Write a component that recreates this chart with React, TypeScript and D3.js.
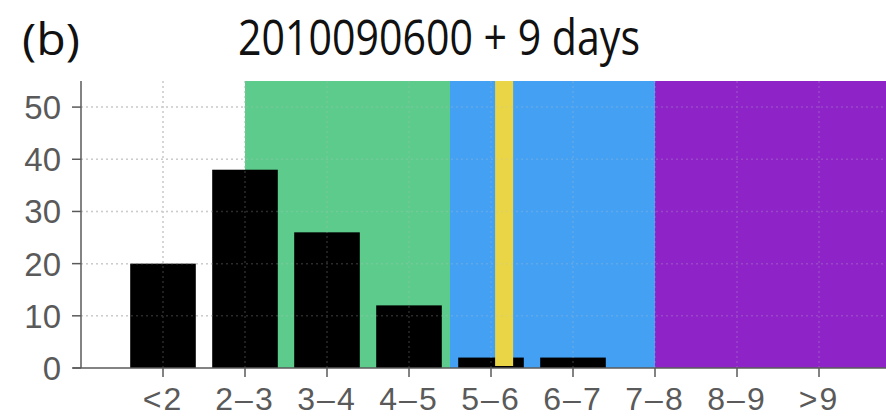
import React from "react";
import * as d3 from "d3";

const categories = ["<2", "2–3", "3–4", "4–5", "5–6", "6–7", "7–8", "8–9", ">9"];
const counts = [20, 38, 26, 12, 2, 2, 0, 0, 0];
const yTicks = [0, 10, 20, 30, 40, 50];

const bandStarts = [2, 4.5, 7];
const bandEnds = [4.5, 7, 10];
const bandColors = ["#5ccb8b", "#44a0f3", "#8e24c8"];

const obsRange = [5.05, 5.27];
const obsColor = "#e9d545";

export default function App() {
  const width = 886;
  const height = 416;
  const margin = { left: 81, top: 81, bottom: 48 };
  const plotBottom = height - margin.bottom;

  const x = d3.scaleLinear().domain([0, 10]).range([margin.left, margin.left + 820]);
  const y = d3.scaleLinear().domain([0, 55]).range([plotBottom, margin.top]);

  const barW = x(0.8) - x(0);
  const gridColor = "#c4c4c4";
  const axisColor = "#5a5a5a";

  // grid drawn twice: under the fills (clear on white) and as a faint overlay
  const grid = (opacity: number, key: string) => (
    <g key={key} opacity={opacity}>
      {yTicks.filter((t) => t > 0).map((t) => (
        <line key={t} x1={x(0)} x2={width} y1={y(t)} y2={y(t)} stroke={gridColor} strokeDasharray="2,3" strokeWidth={1.5} />
      ))}
      {categories.map((_, i) => (
        <line key={i} x1={x(i + 1)} x2={x(i + 1)} y1={y(55)} y2={plotBottom} stroke={gridColor} strokeDasharray="2,3" strokeWidth={1.5} />
      ))}
    </g>
  );

  return (
    <svg
      width={width}
      height={height}
      style={{ position: "absolute", left: 0, top: 0, display: "block", background: "#fff" }}
    >
      <text x={22} y={55} fontFamily="Open Sans" fontSize={44} fill="#111" textLength={58} lengthAdjust="spacingAndGlyphs">
        (b)
      </text>
      <text x={238} y={55} fontFamily="Open Sans" fontSize={50} fill="#111" textLength={402} lengthAdjust="spacingAndGlyphs">
        2010090600 + 9 days
      </text>

      {grid(0.8, "under")}

      {bandStarts.map((s, i) => (
        <rect key={i} x={x(s)} y={y(55)} width={x(bandEnds[i]) - x(s)} height={plotBottom - y(55)} fill={bandColors[i]} />
      ))}

      {counts.map((c, i) =>
        c > 0 ? (
          <rect key={i} x={x(i + 1) - barW / 2} y={y(c)} width={barW} height={plotBottom - y(c)} fill="#000" />
        ) : null
      )}

      <rect x={x(obsRange[0])} y={y(55)} width={x(obsRange[1]) - x(obsRange[0])} height={plotBottom - 2 - y(55)} fill={obsColor} />

      {grid(0.22, "over")}

      <line x1={x(0)} x2={x(0)} y1={y(55)} y2={plotBottom} stroke={axisColor} strokeWidth={1.5} />
      <line x1={x(0) - 8} x2={width} y1={plotBottom} y2={plotBottom} stroke={axisColor} strokeWidth={1.5} />

      {yTicks.map((t) => (
        <g key={t}>
          <line x1={x(0) - 9} x2={x(0)} y1={y(t)} y2={y(t)} stroke={axisColor} strokeWidth={1.5} />
          <text x={61} y={y(t)} dy="0.36em" textAnchor="end" fontFamily="Liberation Sans" fontSize={33} fill="#5a5a5a">
            {t}
          </text>
        </g>
      ))}

      {categories.map((c, i) => (
        <g key={c}>
          <line x1={x(i + 1)} x2={x(i + 1)} y1={plotBottom} y2={plotBottom + 9} stroke={axisColor} strokeWidth={1.5} />
          <text x={x(i + 1)} y={410} textAnchor="middle" fontFamily="Liberation Sans" fontSize={32} letterSpacing={2} fill="#5a5a5a">
            {c}
          </text>
        </g>
      ))}
    </svg>
  );
}
